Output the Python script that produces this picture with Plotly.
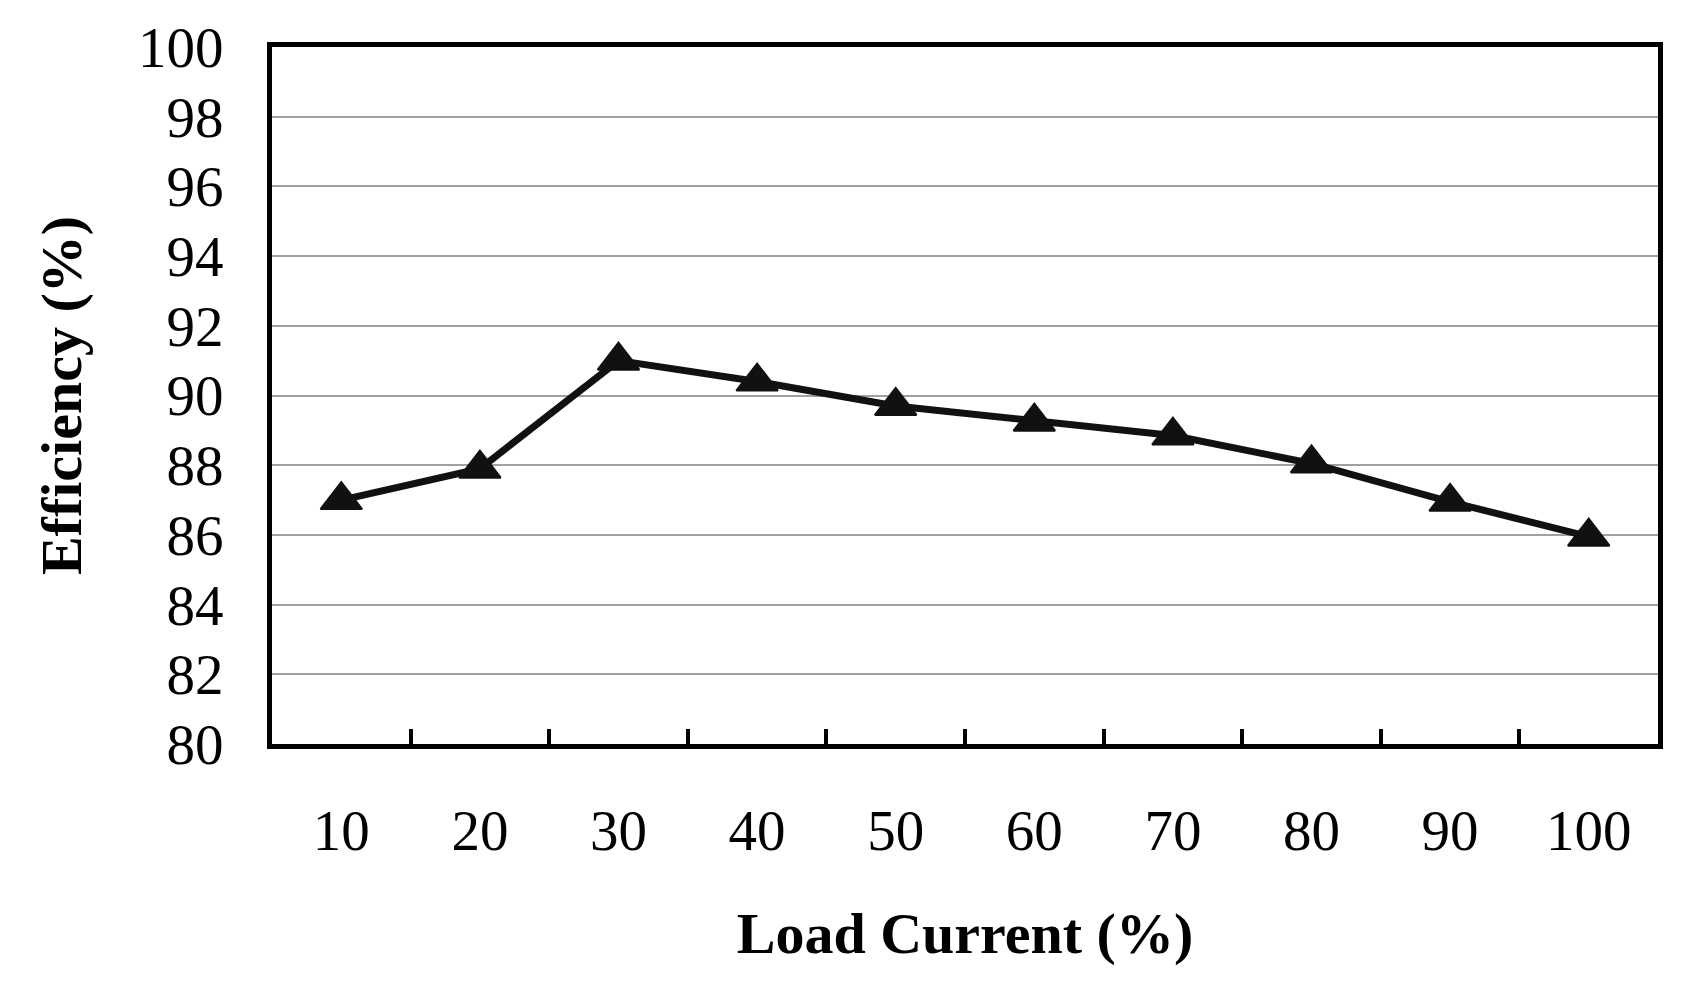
import plotly.graph_objects as go

load_current = ["10", "20", "30", "40", "50", "60", "70", "80", "90", "100"]
efficiency = [87.0, 87.9, 91.0, 90.4, 89.7, 89.25, 88.85, 88.05, 86.95, 85.95]
y_ticks = [80, 82, 84, 86, 88, 90, 92, 94, 96, 98, 100]

font_family = "Liberation Serif, Times New Roman, serif"

fig = go.Figure()
fig.add_trace(go.Scatter(
    x=load_current,
    y=efficiency,
    mode="lines+markers",
    line=dict(color="#111111", width=7),
    marker=dict(symbol="triangle-up", size=36, color="#111111",
                line=dict(color="#111111", width=2)),
    showlegend=False,
))

fig.update_layout(
    width=1695,
    height=984,
    margin=dict(l=264, r=45, t=39, b=248),
    paper_bgcolor="white",
    plot_bgcolor="white",
    font=dict(family=font_family, color="black"),
)

fig.update_xaxes(
    type="category",
    range=[-0.5, 9.5],
    automargin=False,
    tickson="boundaries",
    ticks="inside",
    ticklen=15,
    tickwidth=4,
    tickcolor="black",
    showline=True,
    linecolor="black",
    linewidth=5,
    mirror=True,
    showgrid=False,
    tickfont=dict(size=57, family=font_family, color="black"),
    ticklabelstandoff=33,
    title=dict(text="<b>Load Current (%)</b>",
               font=dict(size=58, family=font_family, color="black"),
               standoff=52),
)

fig.update_yaxes(
    range=[80, 100],
    automargin=False,
    tickvals=y_ticks,
    ticktext=[str(v) for v in y_ticks],
    ticks="",
    showline=True,
    linecolor="black",
    linewidth=5,
    mirror=True,
    showgrid=True,
    gridcolor="#a0a0a0",
    gridwidth=1.8,
    zeroline=False,
    tickfont=dict(size=57, family=font_family, color="black"),
    ticklabelstandoff=32,
    title=dict(text="<b>Efficiency (%)</b>",
               font=dict(size=58, family=font_family, color="black"),
               standoff=39),
)

fig.write_html("out.html")
